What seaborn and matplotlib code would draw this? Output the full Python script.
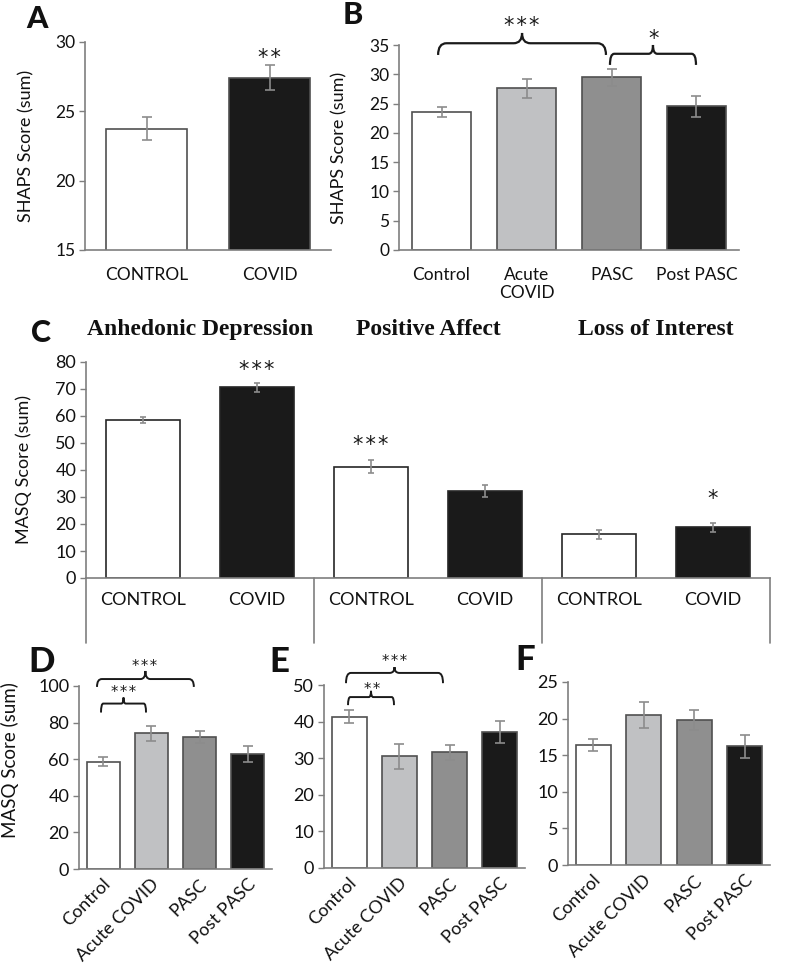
import matplotlib
matplotlib.use('Agg')
import matplotlib.pyplot as plt
import matplotlib.transforms as mtransforms
from matplotlib.path import Path
from matplotlib.patches import PathPatch
import seaborn as sns
import pandas as pd

# ---- data ----
two_groups = ['CONTROL', 'COVID']
four_groups = ['Control', 'Acute COVID', 'PASC', 'Post PASC']
b_tick_labels = ['Control', 'Acute\nCOVID', 'PASC', 'Post PASC']

shaps_two_mean = [23.75, 27.42]
shaps_two_sem = [0.85, 0.9]
shaps_four_mean = [23.6, 27.6, 29.5, 24.5]
shaps_four_sem = [0.85, 1.65, 1.45, 1.8]

masq_scales = ['Anhedonic Depression', 'Positive Affect', 'Loss of Interest']
masq_two_mean = [58.5, 70.7, 41.2, 32.2, 16.2, 18.8]
masq_two_sem = [1.2, 1.7, 2.4, 2.1, 1.7, 1.6]

masq_ad_mean = [58.7, 74.2, 72.0, 62.9]
masq_ad_sem = [2.25, 4.0, 3.2, 4.2]
masq_pa_mean = [41.3, 30.5, 31.6, 37.2]
masq_pa_sem = [1.75, 3.4, 2.0, 3.05]
masq_li_mean = [16.4, 20.5, 19.8, 16.2]
masq_li_sem = [0.85, 1.75, 1.4, 1.55]

two_colors = ['#ffffff', '#1a1a1a']
four_colors = ['#ffffff', '#c0c1c3', '#8f8f8f', '#1a1a1a']

W, H = 787, 976
FONT = ['Lato', 'DejaVu Sans']
SPINE = '#7f7f7f'
ERR = '#8c8c8c'

sns.set_theme(style='ticks')
plt.rcParams['font.family'] = FONT
plt.rcParams['text.color'] = '#111111'
plt.rcParams['axes.labelcolor'] = '#111111'
plt.rcParams['xtick.color'] = '#111111'
plt.rcParams['ytick.color'] = '#111111'

fig = plt.figure(figsize=(W / 100, H / 100), dpi=100)
fig.patch.set_facecolor('white')


def px_axes(x0, y0, x1, y1):
    return fig.add_axes([x0 / W, 1 - y1 / H, (x1 - x0) / W, (y1 - y0) / H])


def style_axes(ax, ylim, yticks, fs):
    ax.set_ylim(*ylim)
    ax.set_yticks(yticks)
    for s in ['top', 'right']:
        ax.spines[s].set_visible(False)
    for s in ['left', 'bottom']:
        ax.spines[s].set_color(SPINE)
        ax.spines[s].set_linewidth(1.2)
    ax.tick_params(axis='y', direction='out', length=4, width=1, color=SPINE,
                   labelsize=fs, pad=3)
    ax.tick_params(axis='x', length=0, labelsize=fs)
    ax.set_facecolor('white')
    ax.set_xlabel('')
    ax.set_ylabel('')


def draw_bars(ax, keys, means, sems, colors, width, capsize, edge='#505050'):
    df = pd.DataFrame({'group': keys, 'score': means})
    sns.barplot(data=df, x='group', y='score', hue='group', order=keys,
                hue_order=keys, palette=dict(zip(keys, colors)), width=width,
                saturation=1, edgecolor=edge, linewidth=1.2, errorbar=None,
                legend=False, ax=ax)
    ax.errorbar(range(len(keys)), means, yerr=sems, fmt='none', ecolor=ERR,
                elinewidth=1.2, capsize=capsize, capthick=1.2, zorder=5)
    ax.set_xlim(-0.5, len(keys) - 0.5)


def brace(ax, x0, x1, y, y_end, y_tip, lw=1.6):
    xm = (x0 + x1) / 2
    rx = (x1 - x0) * 0.05
    verts = [(x0, y_end), (x0, y), (x0 + rx, y),
             (xm - rx, y), (xm, y), (xm, y_tip),
             (xm, y), (xm + rx, y),
             (x1 - rx, y), (x1, y), (x1, y_end)]
    codes = [Path.MOVETO, Path.CURVE3, Path.CURVE3, Path.LINETO,
             Path.CURVE3, Path.CURVE3, Path.CURVE3, Path.CURVE3,
             Path.LINETO, Path.CURVE3, Path.CURVE3]
    ax.add_patch(PathPatch(Path(verts, codes), fill=False, lw=lw,
                           color='#1a1a1a', clip_on=False, zorder=6))


def stars(ax, x, y, n, fs):
    # y is the visual centre of the asterisks
    txt = '\u200a'.join('*' * n)
    ax.annotate(txt, (x, y), xytext=(0, -0.6 * fs), textcoords='offset points',
                ha='center', va='baseline', fontsize=fs, color='#1a1a1a',
                family=['DejaVu Sans'], annotation_clip=False)


def letter(x, y, txt, fs):
    fig.text(x / W, 1 - y / H, txt, ha='center', va='center', fontsize=fs,
             fontweight='black', color='#111111')


# ---- A ----
axA = px_axes(85, 42, 331, 250)
draw_bars(axA, two_groups, shaps_two_mean, shaps_two_sem, two_colors, 0.66, 3.5)
style_axes(axA, (15, 30), [15, 20, 25, 30], 12.5)
axA.tick_params(axis='x', pad=12)
axA.set_ylabel('SHAPS Score (sum)', fontsize=13)
axA.yaxis.set_label_coords(-0.207, 0.5)
stars(axA, 1, 29.3, 2, 15)

# ---- B ----
axB = px_axes(399, 45, 739, 250)
draw_bars(axB, four_groups, shaps_four_mean, shaps_four_sem, four_colors, 0.69, 3.5)
style_axes(axB, (0, 35), range(0, 36, 5), 12.5)
axB.set_xticks(range(4), b_tick_labels)
axB.tick_params(axis='x', pad=12)
axB.set_ylabel('SHAPS Score (sum)', fontsize=13)
axB.yaxis.set_label_coords(-0.153, 0.5)
brace(axB, -0.04, 1.935, 35.3, 33.3, 37.05)
stars(axB, 0.947, 39.3, 3, 15)
brace(axB, 1.982, 2.994, 33.5, 31.6, 35.0)
stars(axB, 2.49, 37.2, 1, 15)

# ---- C ----
axC = px_axes(86, 362, 770, 578)
c_keys = [f'{s}|{g}' for s in masq_scales for g in two_groups]
draw_bars(axC, c_keys, masq_two_mean, masq_two_sem, two_colors * 3, 0.645, 2.5,
          edge='#262626')
style_axes(axC, (0, 80), range(0, 81, 10), 13)
axC.set_xticks(range(6), two_groups * 3)
axC.tick_params(axis='x', pad=10)
axC.set_ylabel('MASQ Score (sum)', fontsize=13)
axC.yaxis.set_label_coords(-0.079, 0.5)
sep = mtransforms.blended_transform_factory(axC.transData, axC.transAxes)
for xs in [-0.5, 1.5, 3.5, 5.5]:
    axC.plot([xs, xs], [0, -65 / 216], transform=sep, color=SPINE, lw=1.2,
             clip_on=False)
for i, name in enumerate(masq_scales):
    axC.text(2 * i + 0.5, (578 - 330) / 216, name, transform=sep, ha='center',
             va='center', fontsize=17, fontweight='bold',
             family=['Liberation Serif', 'DejaVu Serif'])
stars(axC, 1, 79.5, 3, 15)
stars(axC, 2, 51.8, 3, 15)
stars(axC, 5, 31.5, 1, 15)

# ---- D, E, F ----
def rotated_ticks(ax):
    ax.set_xticks(range(4), four_groups)
    ax.tick_params(axis='x', pad=9, labelsize=13)
    shift = mtransforms.ScaledTranslation(5 / 100, 0, fig.dpi_scale_trans)
    for lab in ax.get_xticklabels():
        lab.set_rotation(45)
        lab.set_ha('right')
        lab.set_va('center')
        lab.set_rotation_mode('anchor')
        lab.set_transform(lab.get_transform() + shift)


axD = px_axes(79, 686, 272, 869)
draw_bars(axD, four_groups, masq_ad_mean, masq_ad_sem, four_colors, 0.68, 3.5)
style_axes(axD, (0, 100), range(0, 101, 20), 13)
rotated_ticks(axD)
axD.set_ylabel('MASQ Score (sum)', fontsize=13.5)
axD.yaxis.set_label_coords(-0.31, 0.596)
brace(axD, -0.127, 1.88, 103.8, 99.5, 108.2, lw=1.4)
stars(axD, 0.868, 113, 3, 10.5)
brace(axD, -0.044, 0.889, 90.4, 85.5, 93.7, lw=1.4)
stars(axD, 0.433, 98.9, 3, 10.5)

axE = px_axes(324, 685, 525, 868)
draw_bars(axE, four_groups, masq_pa_mean, masq_pa_sem, four_colors, 0.7, 3.5)
style_axes(axE, (0, 50), range(0, 51, 10), 13)
rotated_ticks(axE)
brace(axE, -0.062, 1.868, 53.3, 50.5, 54.9, lw=1.4)
stars(axE, 0.913, 57.5, 3, 10.5)
brace(axE, -0.022, 0.893, 46.7, 44.5, 48.4, lw=1.4)
stars(axE, 0.455, 50.0, 2, 10.5)

axF = px_axes(568, 682, 770, 865)
draw_bars(axF, four_groups, masq_li_mean, masq_li_sem, four_colors, 0.7, 3.5)
style_axes(axF, (0, 25), range(0, 26, 5), 13)
rotated_ticks(axF)

# ---- panel letters ----
letter(37, 19, 'A', 22)
letter(353, 15, 'B', 22)
letter(41, 333, 'C', 22)
letter(42, 662, 'D', 25)
letter(279, 662, 'E', 25)
letter(525, 660, 'F', 25)

fig.savefig('out.png', dpi=100, facecolor='white')
